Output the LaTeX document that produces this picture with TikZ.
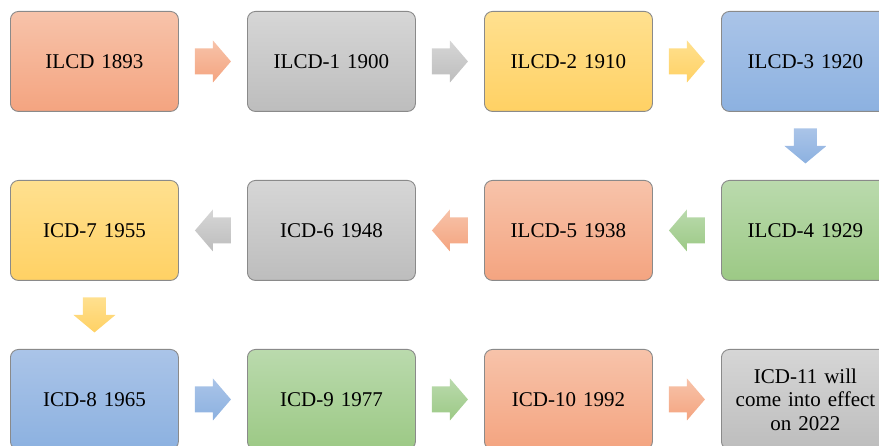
\documentclass[tikz,border=0pt]{standalone}
\usepackage{fontspec}
\setmainfont{Liberation Serif}
\usetikzlibrary{calc}
\definecolor{orT}{HTML}{F7C3AA}\definecolor{orB}{HTML}{F4A480}
\definecolor{grT}{HTML}{D6D6D6}\definecolor{grB}{HTML}{BDBDBD}
\definecolor{yeT}{HTML}{FFE08F}\definecolor{yeB}{HTML}{FFD164}
\definecolor{blT}{HTML}{AAC4E8}\definecolor{blB}{HTML}{8CB1E0}
\definecolor{gnT}{HTML}{BADAAD}\definecolor{gnB}{HTML}{9CC985}
\definecolor{edge}{HTML}{8A8A8A}
\tikzset{
  box/.style={draw=edge, line width=0.9pt, rounded corners=8pt, minimum width=168pt,
    minimum height=100pt, inner sep=0pt, align=center, font=\fontsize{21}{23.5}\selectfont,
    text width=164pt, anchor=north west},
  orange/.style={top color=orT, bottom color=orB},
  gray/.style={top color=grT, bottom color=grB},
  yellow/.style={top color=yeT, bottom color=yeB},
  blue/.style={top color=blT, bottom color=blB},
  green/.style={top color=gnT, bottom color=gnB},
}
% right arrow between #1 and #2, style #3
\newcommand\rarr[3]{\coordinate (m) at ($(#1.east)!0.5!(#2.west)$);
  \path[#3] ($(m)+(-18,-13)$) -- ($(m)+(0,-13)$) -- ($(m)+(0,-21)$) -- ($(m)+(18,0)$)
   -- ($(m)+(0,21)$) -- ($(m)+(0,13)$) -- ($(m)+(-18,13)$) -- cycle;}
\newcommand\larr[3]{\coordinate (m) at ($(#1.west)!0.5!(#2.east)$);
  \path[#3] ($(m)+(18,-13)$) -- ($(m)+(0,-13)$) -- ($(m)+(0,-21)$) -- ($(m)+(-18,0)$)
   -- ($(m)+(0,21)$) -- ($(m)+(0,13)$) -- ($(m)+(18,13)$) -- cycle;}
\newcommand\darr[3]{\coordinate (m) at ($(#1.south)!0.5!(#2.north)$);
  \path[#3] ($(m)+(-11.5,-17.5)$) -- ($(m)+(11.5,-17.5)$) -- ($(m)+(11.5,0)$) -- ($(m)+(21,0)$)
   -- ($(m)+(0,17.5)$) -- ($(m)+(-21,0)$) -- ($(m)+(-11.5,0)$) -- cycle;}
\begin{document}
\begin{tikzpicture}[x=1pt,y=-1pt]
\useasboundingbox (0,0) rectangle (879,446);
\begin{scope}
\clip (0,0) rectangle (879,446);
\node[box,orange] (b1) at (10,11) {ILCD 1893};
\node[box,gray]   (b2) at (247,11) {ILCD-1 1900};
\node[box,yellow] (b3) at (484,11) {ILCD-2 1910};
\node[box,blue]   (b4) at (721,11) {ILCD-3 1920};
\node[box,green]  (b5) at (721,180) {ILCD-4 1929};
\node[box,orange] (b6) at (484,180) {ILCD-5 1938};
\node[box,gray]   (b7) at (247,180) {ICD-6 1948};
\node[box,yellow] (b8) at (10,180) {ICD-7 1955};
\node[box,blue]   (b9) at (10,349) {ICD-8 1965};
\node[box,green]  (b10) at (247,349) {ICD-9 1977};
\node[box,orange] (b11) at (484,349) {ICD-10 1992};
\node[box,gray]   (b12) at (721,349) {ICD-11 will\\come into effect\\on 2022};
\rarr{b1}{b2}{orange}
\rarr{b2}{b3}{gray}
\rarr{b3}{b4}{yellow}
\darr{b4}{b5}{blue}
\larr{b5}{b6}{green}
\larr{b6}{b7}{orange}
\larr{b7}{b8}{gray}
\darr{b8}{b9}{yellow}
\rarr{b9}{b10}{blue}
\rarr{b10}{b11}{green}
\rarr{b11}{b12}{orange}
\end{scope}
\end{tikzpicture}
\end{document}
